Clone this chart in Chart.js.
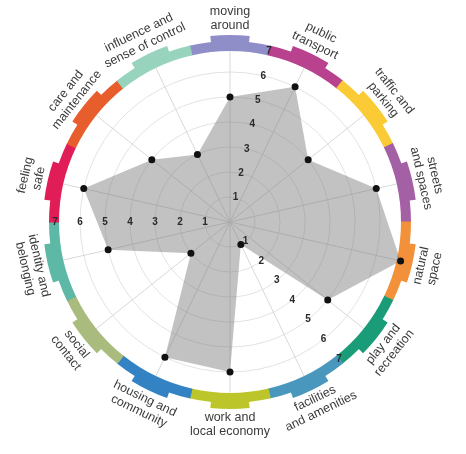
<!DOCTYPE html>
<html>
<head>
<meta charset="utf-8">
<script src="https://cdn.jsdelivr.net/npm/chart.js@4/dist/chart.umd.min.js"></script>
<style>
  html, body { margin:0; padding:0; background:#fff; }
  #wrap { width:466px; height:454px; position:relative; }
</style>
</head>
<body>
<div id="wrap"><canvas id="placeChart"></canvas></div>
<script>
  const categories = [
    ['moving', 'around'], ['public', 'transport'], ['traffic and', 'parking'], ['streets', 'and spaces'],
    ['natural', 'space'], ['play and', 'recreation'], ['facilities', 'and amenities'], ['work and', 'local economy'],
    ['housing and', 'community'], ['social', 'contact'], ['identity and', 'belonging'], ['feeling', 'safe'],
    ['care and', 'maintenance'], ['influence and', 'sense of control']
  ];
  const scores = [5, 6, 4, 6, 7, 5, 1, 6, 6, 2, 5, 6, 4, 3];
  const ringColours = ['#8f8ec8','#b9428f','#fbcb35','#a460a4','#f2913a','#1a9c79','#4a97bd','#bcc62b',
                       '#3382c3','#a9bc7e','#5db8a5','#e11d58','#e85d2c','#98d3bd'];
  const tickValues = [1, 2, 3, 4, 5, 6, 7];
  const tickSpokes = [0, 5, 10]; // tick numbers sit half way between this spoke and the next

  const placeRing = {
    id: 'placeRing',
    beforeDatasetsDraw(chart) {
      const s = chart.scales.r, ctx = chart.ctx;
      const cx = s.xCenter, cy = s.yCenter;
      const r7 = s.getDistanceFromCenterForValue(7);
      const half = Math.PI / categories.length;
      ctx.save();
      categories.forEach((c, i) => {
        const a = s.getIndexAngle(i) - Math.PI / 2;
        ctx.fillStyle = ringColours[i];
        ctx.beginPath();
        ctx.arc(cx, cy, r7 + 6, a - half - 0.003, a + half + 0.003);
        ctx.arc(cx, cy, r7 - 4, a + half + 0.003, a - half - 0.003, true);
        ctx.closePath();
        ctx.fill();
        ctx.beginPath();
        ctx.arc(cx, cy, r7 + 12, a - half * 0.47, a + half * 0.47);
        ctx.arc(cx, cy, r7, a + half * 0.47, a - half * 0.47, true);
        ctx.closePath();
        ctx.fill();
      });
      ctx.restore();
    },
    afterDatasetsDraw(chart) {
      const s = chart.scales.r, ctx = chart.ctx;
      const half = Math.PI / categories.length;
      ctx.save();
      ctx.font = 'bold 10px "Liberation Sans", Arial, sans-serif';
      ctx.fillStyle = '#2a2a2a';
      ctx.textAlign = 'center';
      ctx.textBaseline = 'middle';
      tickSpokes.forEach(i => {
        const a = s.getIndexAngle(i) + half - Math.PI / 2;
        tickValues.forEach(v => {
          const d = s.getDistanceFromCenterForValue(v);
          ctx.fillText(String(v), s.xCenter + Math.cos(a) * d, s.yCenter + Math.sin(a) * d);
        });
      });
      ctx.restore();
    },
    afterDraw(chart) {
      const s = chart.scales.r, ctx = chart.ctx;
      const rl = s.getDistanceFromCenterForValue(7) + 28;
      const lh = 14;
      ctx.save();
      ctx.font = '12.5px "Liberation Sans", Arial, sans-serif';
      ctx.fillStyle = '#3a3a3a';
      ctx.textAlign = 'center';
      ctx.textBaseline = 'middle';
      categories.forEach((lines, i) => {
        const ang = s.getIndexAngle(i);
        const x = s.xCenter + Math.cos(ang - Math.PI / 2) * rl;
        const y = s.yCenter + Math.sin(ang - Math.PI / 2) * rl;
        let rot = ang;
        if (ang > Math.PI / 2 && ang < Math.PI * 1.5) rot -= Math.PI;
        ctx.save();
        ctx.translate(x, y);
        ctx.rotate(rot);
        lines.forEach((t, k) => ctx.fillText(t, 0, (k - (lines.length - 1) / 2) * lh));
        ctx.restore();
      });
      ctx.restore();
    }
  };

  new Chart(document.getElementById('placeChart'), {
    type: 'radar',
    data: {
      labels: categories,
      datasets: [{
        data: scores,
        backgroundColor: 'rgba(120,120,120,0.45)',
        borderWidth: 0,
        fill: true,
        pointRadius: 3.5,
        pointBackgroundColor: '#111',
        pointBorderWidth: 0
      }]
    },
    options: {
      responsive: true, maintainAspectRatio: false, animation: false,
      layout: { padding: { left: 55, top: 47, right: 61, bottom: 57 } },
      plugins: { legend: { display: false }, tooltip: { enabled: false } },
      scales: {
        r: {
          min: 0, max: 7,
          ticks: { display: false, stepSize: 1 },
          pointLabels: { display: false },
          grid: { circular: true, color: '#e2e2e2' },
          angleLines: { color: '#d8d8d8' }
        }
      }
    },
    plugins: [placeRing]
  });
</script>
</body>
</html>
